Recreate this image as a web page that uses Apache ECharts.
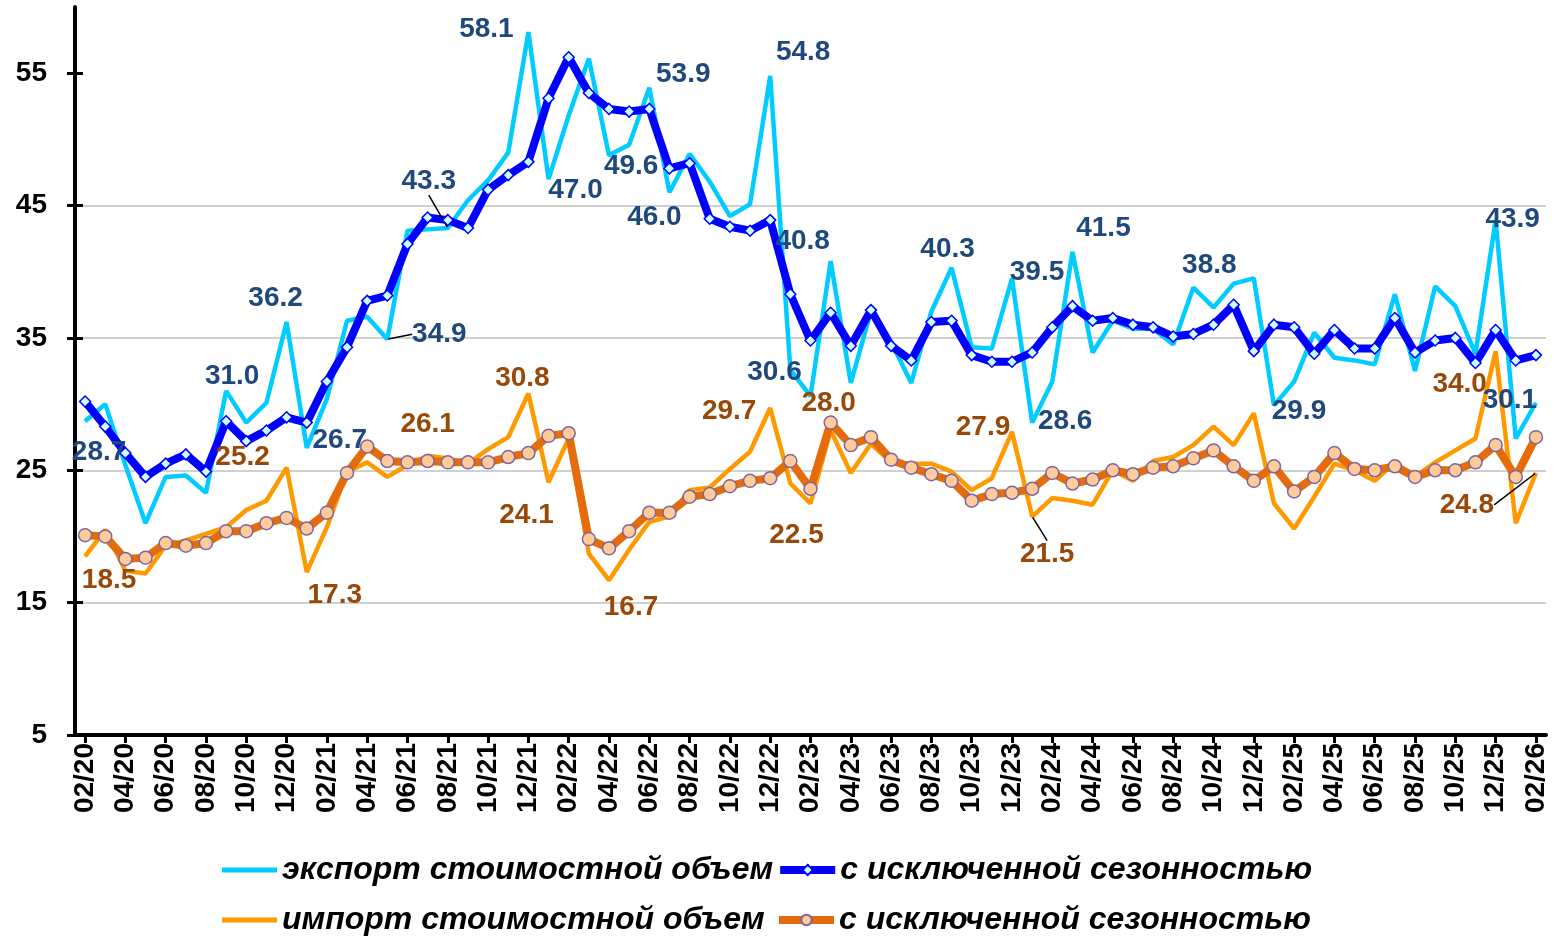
<!DOCTYPE html>
<html><head><meta charset="utf-8">
<script src="https://cdn.jsdelivr.net/npm/echarts@6/dist/echarts.min.js"></script>
<style>html,body{margin:0;padding:0;background:#fff}#c{width:1554px;height:937px}</style>
</head><body><div id="c"></div>
<script>
// ---------- DATA ----------
const categories = [
 '02/20','03/20','04/20','05/20','06/20','07/20','08/20','09/20','10/20','11/20','12/20',
 '01/21','02/21','03/21','04/21','05/21','06/21','07/21','08/21','09/21','10/21','11/21','12/21',
 '01/22','02/22','03/22','04/22','05/22','06/22','07/22','08/22','09/22','10/22','11/22','12/22',
 '01/23','02/23','03/23','04/23','05/23','06/23','07/23','08/23','09/23','10/23','11/23','12/23',
 '01/24','02/24','03/24','04/24','05/24','06/24','07/24','08/24','09/24','10/24','11/24','12/24',
 '01/25','02/25','03/25','04/25','05/25','06/25','07/25','08/25','09/25','10/25','11/25','12/25',
 '01/26','02/26'];

const exportValue = [28.7,30.0,25.4,21.0,24.5,24.6,23.3,31.0,28.6,30.1,36.2,26.7,30.4,36.3,36.6,34.9,43.1,43.2,43.3,45.4,46.9,49.0,58.1,47.0,51.8,56.1,48.8,49.6,53.9,46.0,48.9,46.8,44.2,45.1,54.8,32.6,30.6,40.8,31.6,37.0,34.7,31.6,37.0,40.3,34.3,34.2,39.5,28.6,31.7,41.5,33.9,36.3,35.7,35.7,34.5,38.8,37.3,39.1,39.5,29.9,31.7,35.4,33.5,33.3,33.0,38.3,32.5,38.9,37.4,33.8,43.9,27.4,30.1];

const exportSA = [30.2,28.3,26.3,24.5,25.5,26.2,24.9,28.7,27.2,28.0,29.0,28.6,31.7,34.3,37.8,38.2,42.1,44.1,43.9,43.3,46.2,47.3,48.3,53.1,56.2,53.5,52.3,52.1,52.3,47.8,48.2,44.0,43.4,43.1,43.9,38.3,34.8,36.9,34.4,37.1,34.4,33.3,36.2,36.3,33.7,33.2,33.2,33.9,35.8,37.4,36.3,36.5,36.0,35.8,35.1,35.3,36.0,37.5,34.0,36.0,35.8,33.8,35.6,34.2,34.2,36.5,33.9,34.8,35.0,33.1,35.6,33.3,33.7];

const importValue = [18.5,20.5,17.4,17.2,19.3,19.7,20.2,20.7,22.0,22.7,25.2,17.3,20.7,24.9,25.6,24.5,25.4,26.1,25.9,25.5,26.6,27.5,30.8,24.1,27.4,18.7,16.7,19.0,21.1,21.5,23.5,23.7,25.1,26.4,29.7,24.0,22.5,28.0,24.8,27.0,25.6,25.5,25.5,24.9,23.5,24.4,27.9,21.5,22.9,22.7,22.4,25.0,24.2,25.7,26.0,26.9,28.3,26.9,29.3,22.5,20.6,23.0,25.5,25.0,24.2,25.6,24.5,25.6,26.5,27.4,34.0,21.0,24.8];

const importSA = [20.1,20.0,18.3,18.4,19.5,19.3,19.5,20.4,20.4,21.0,21.4,20.6,21.8,24.8,26.8,25.7,25.6,25.7,25.6,25.6,25.6,26.0,26.3,27.6,27.8,19.8,19.1,20.4,21.8,21.8,23.0,23.2,23.8,24.2,24.4,25.7,23.6,28.6,26.9,27.5,25.8,25.2,24.7,24.2,22.7,23.2,23.3,23.6,24.8,24.0,24.3,25.0,24.7,25.2,25.3,25.9,26.5,25.3,24.2,25.3,23.4,24.5,26.3,25.1,25.0,25.3,24.5,25.0,25.0,25.6,26.9,24.5,27.5];

const yTicks = [5, 15, 25, 35, 45, 55];

const nameExport = 'экспорт стоимостной объем';
const nameExportSA = 'с исключенной сезонностью';
const nameImport = 'импорт стоимостной объем';
const nameImportSA = 'с исключенной сезонностью ';

// ---------- LABEL PLACEMENT (index, dx, dy, leader line) ----------
const exportLabelPlacement = [
 [0,14,31],[7,6,-15],[10,-11,-24],[11,33,-7],[15,52,-5,1],[18,-19,-47,1],[22,-42,-3],
 [23,27,11],[27,2,22],[28,34,-13],[29,-15,25],[34,33,-24],[36,-36,-24],[37,-28,-20],
 [43,-4,-18],[46,25,-6],[47,33,-1],[49,31,-24],[55,16,-22],[59,25,6],[70,17,-1],[72,-26,-2]];
const importLabelPlacement = [
 [0,24,24],[10,-44,-10],[11,28,23],[17,0,-31],[22,-6,-15],[23,-22,33],[26,22,27],
 [34,-41,3],[36,-14,32],[37,-2,-27],[46,-29,-5],[47,15,38,1],[70,-36,33],[72,-69,32,1]];

// ---------- BUILD ----------
const FONT = '"Liberation Sans", Arial, Helvetica, sans-serif';
function toMap(cfg){ const m = {}; cfg.forEach(c => { m[c[0]] = c; }); return m; }
function buildData(values, cfg){
  const m = toMap(cfg);
  return values.map((v, i) => m[i] ? { value: v, label: { show: true }, labelLine: { show: !!m[i][3] } } : v);
}
function layoutFn(cfg){
  const m = toMap(cfg);
  return p => { const c = m[p.dataIndex]; return c ? { dx: c[1], dy: c[2] } : {}; };
}
function labelStyle(color){
  return { show: false, position: 'inside', color: color, fontSize: 28, fontWeight: 'bold',
    fontFamily: FONT, textBorderWidth: 0, textBorderColor: 'transparent',
    formatter: p => Number(p.value).toFixed(1) };
}
const BAR = 'path://M0,0 L55,0 L55,5 L0,5 Z';
const legendText = { fontSize: 32, fontWeight: 'bold', fontStyle: 'italic', fontFamily: FONT,
  color: '#000', width: 490, lineHeight: 40 };

const chart = echarts.init(document.getElementById('c'), null, { renderer: 'canvas' });
chart.setOption({
  animation: false,
  backgroundColor: '#fff',
  grid: { left: 75, right: 8, top: 7, bottom: 202 },
  legend: [
    { top: 850, left: 222, padding: 0, itemWidth: 55, itemHeight: 13, itemGap: 3, selectedMode: false,
      textStyle: legendText,
      data: [ { name: nameExport, icon: BAR, itemStyle: { color: '#00CCFF' } },
              { name: nameExportSA, lineStyle: { width: 8, color: '#0000FF' } } ] },
    { top: 900, left: 222, padding: 0, itemWidth: 55, itemHeight: 13, itemGap: 3, selectedMode: false,
      textStyle: legendText,
      data: [ { name: nameImport, icon: BAR, itemStyle: { color: '#FF9900' } },
              { name: nameImportSA, lineStyle: { width: 8, color: '#E46C0A' } } ] }
  ],
  xAxis: {
    type: 'category', data: categories, boundaryGap: true,
    axisLine: { show: true, lineStyle: { color: '#000', width: 4 } },
    axisTick: { show: true, interval: 1, alignWithLabel: true, length: 8, lineStyle: { color: '#000', width: 3 } },
    axisLabel: { interval: 1, rotate: 90, fontSize: 28, fontWeight: 'bold', color: '#000', fontFamily: FONT, margin: 8 },
    splitLine: { show: false }
  },
  yAxis: [
    { type: 'value', min: 5, max: 60, interval: 10, position: 'left',
      axisLine: { show: true, lineStyle: { color: '#000', width: 4 } },
      axisTick: { show: true, length: 8, customValues: yTicks, lineStyle: { color: '#000', width: 3 } },
      axisLabel: { customValues: yTicks, fontSize: 28, fontWeight: 'bold', color: '#000', fontFamily: FONT, margin: 28 },
      splitLine: { show: true, showMaxLine: false, lineStyle: { color: '#C0C0C0', width: 1.5 } } },
    { type: 'value', min: 5, max: 60, interval: 10, position: 'left', offset: 0,
      axisLine: { show: false },
      axisTick: { show: true, inside: true, length: 8, customValues: yTicks, lineStyle: { color: '#000', width: 3 } },
      axisLabel: { show: false }, splitLine: { show: false } }
  ],
  series: [
    { name: nameExport, type: 'line', yAxisIndex: 0, data: buildData(exportValue, exportLabelPlacement),
      symbol: 'circle', symbolSize: 2, showSymbol: true, showAllSymbol: true,
      lineStyle: { color: '#00CCFF', width: 4.5 }, itemStyle: { color: 'rgba(0,0,0,0)', borderWidth: 0 },
      label: labelStyle('#1F497D'), labelLayout: layoutFn(exportLabelPlacement),
      labelLine: { show: false, lineStyle: { color: '#000', width: 1.5 } },
      emphasis: { disabled: true }, silent: true },
    { name: nameExportSA, type: 'line', yAxisIndex: 0, data: exportSA,
      symbol: 'diamond', symbolSize: 11, showSymbol: true, showAllSymbol: true,
      lineStyle: { color: '#0000FF', width: 8 },
      itemStyle: { color: '#CCFFFF', borderColor: '#0000FF', borderWidth: 1.5 },
      emphasis: { disabled: true }, silent: true },
    { name: nameImport, type: 'line', yAxisIndex: 0, data: buildData(importValue, importLabelPlacement),
      symbol: 'circle', symbolSize: 2, showSymbol: true, showAllSymbol: true,
      lineStyle: { color: '#FF9900', width: 4.5 }, itemStyle: { color: 'rgba(0,0,0,0)', borderWidth: 0 },
      label: labelStyle('#984807'), labelLayout: layoutFn(importLabelPlacement),
      labelLine: { show: false, lineStyle: { color: '#000', width: 1.5 } },
      emphasis: { disabled: true }, silent: true },
    { name: nameImportSA, type: 'line', yAxisIndex: 0, data: importSA,
      symbol: 'circle', symbolSize: 13, showSymbol: true, showAllSymbol: true,
      lineStyle: { color: '#E46C0A', width: 8 },
      itemStyle: { color: '#FFCC99', borderColor: '#8064A2', borderWidth: 1.5 },
      emphasis: { disabled: true }, silent: true }
  ]
});
</script>
</body></html>
